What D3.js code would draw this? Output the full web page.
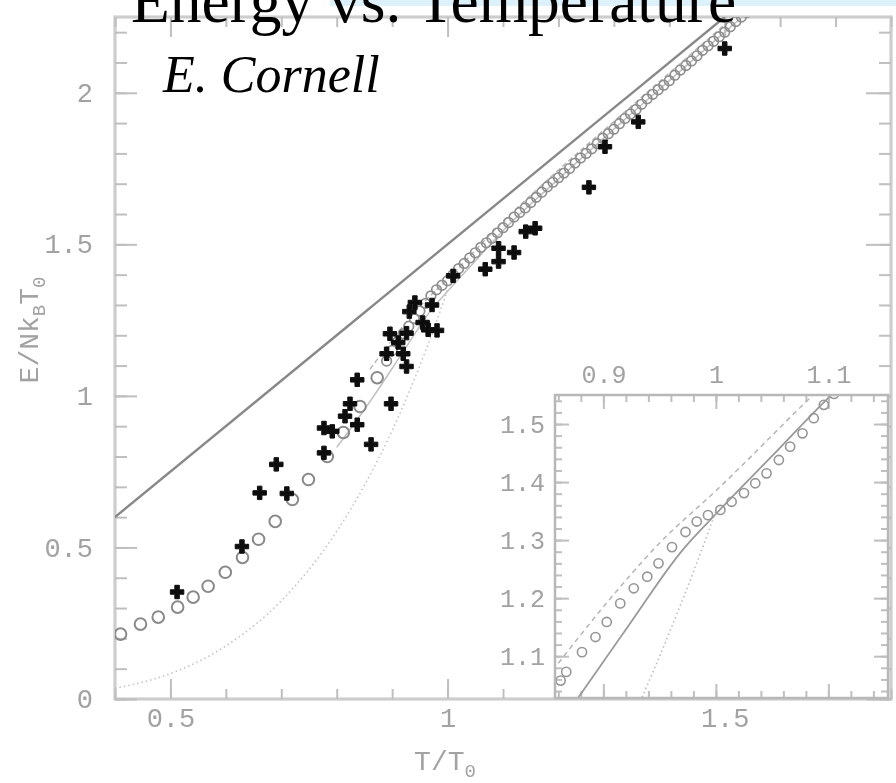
<!DOCTYPE html>
<html>
<head>
<meta charset="utf-8">
<script src="https://cdn.jsdelivr.net/npm/d3@7"></script>
<style>
  body { margin: 0; background: #fff; }
  svg { display: block; }
  .tick text { font-family: "Liberation Mono", monospace; fill: #a2a2a2; }
</style>
</head>
<body>
<svg id="chart"></svg>
<script>
// measured points (filled markers)
const dataT = [0.512, 0.629, 0.661, 0.691, 0.710, 0.777, 0.777, 0.792, 0.815, 0.824, 0.837, 0.837, 0.862,
  0.890, 0.896, 0.911, 0.920, 0.926, 0.926, 0.898, 0.931, 0.941, 0.955, 0.972, 0.965, 0.981,
  1.010, 1.068, 1.092, 1.092, 1.120, 1.141, 1.158, 1.255, 1.284, 1.344, 1.500];
const dataE = [0.353, 0.503, 0.680, 0.774, 0.678, 0.812, 0.894, 0.883, 0.933, 0.974, 1.053, 0.905, 0.840,
  1.139, 1.205, 1.176, 1.139, 1.207, 1.097, 0.974, 1.278, 1.308, 1.242, 1.300, 1.218, 1.216,
  1.396, 1.418, 1.443, 1.487, 1.473, 1.542, 1.553, 1.688, 1.822, 1.904, 2.146];

// open circles, main panel, low T part (larger)
const lowCircT = [0.41, 0.446, 0.478, 0.513, 0.541, 0.568, 0.599, 0.63, 0.659, 0.689, 0.72, 0.749, 0.783,
  0.812, 0.842, 0.873];
const lowCircE = [0.214, 0.247, 0.27, 0.303, 0.336, 0.372, 0.418, 0.467, 0.527, 0.586, 0.658, 0.724, 0.80,
  0.879, 0.965, 1.06];

// open circles, main panel, upper chain (small, dense)
const highCircT = [0.89, 0.90, 0.91, 0.92, 0.93, 0.94, 0.95, 0.96, 0.97, 0.98, 0.99, 1.0, 1.01, 1.02, 1.03,
  1.04, 1.05, 1.06, 1.07, 1.08, 1.09, 1.10, 1.11, 1.12, 1.13, 1.14, 1.15, 1.16, 1.17, 1.18, 1.19, 1.20,
  1.21, 1.22, 1.23, 1.24, 1.25, 1.26, 1.27, 1.28, 1.29, 1.30, 1.31, 1.32, 1.33, 1.34, 1.35, 1.36, 1.37,
  1.38, 1.39, 1.40, 1.41, 1.42, 1.43, 1.44, 1.45, 1.46, 1.47, 1.48, 1.49, 1.50, 1.51, 1.52, 1.53, 1.54];
const highCircE = [1.115, 1.15, 1.18, 1.205, 1.23, 1.255, 1.28, 1.305, 1.33, 1.35, 1.365, 1.38, 1.40, 1.42,
  1.437, 1.455, 1.472, 1.49, 1.505, 1.52, 1.538, 1.555, 1.572, 1.59, 1.605, 1.62, 1.638, 1.655, 1.672,
  1.69, 1.705, 1.72, 1.735, 1.75, 1.768, 1.785, 1.80, 1.815, 1.832, 1.85, 1.865, 1.88, 1.898, 1.915,
  1.93, 1.945, 1.962, 1.98, 1.995, 2.01, 2.025, 2.04, 2.058, 2.075, 2.09, 2.105, 2.122, 2.14, 2.155,
  2.17, 2.185, 2.2, 2.218, 2.235, 2.25, 2.265];

// open circles, inset
const insetCircT = [0.862, 0.867, 0.881, 0.893, 0.903, 0.915, 0.927, 0.939, 0.949, 0.961, 0.973, 0.983, 0.993,
  1.004, 1.014, 1.025, 1.035, 1.045, 1.056, 1.066, 1.077, 1.087, 1.096, 1.105];
const insetCircE = [1.058, 1.073, 1.107, 1.133, 1.159, 1.191, 1.217, 1.237, 1.26, 1.288, 1.314, 1.332, 1.343,
  1.352, 1.366, 1.381, 1.398, 1.415, 1.438, 1.461, 1.484, 1.51, 1.533, 1.552];

// straight solid line
const classT = [0.4, 1.5];
const classE = [0.6, 2.25];

// dashed curve
const dashT = [0.86, 0.9, 0.95, 1.0, 1.1, 1.2, 1.3, 1.4, 1.5, 1.6];
const dashE = [1.088, 1.185, 1.295, 1.385, 1.575, 1.745, 1.905, 2.065, 2.225, 2.385];

// thin solid curve
const solidT = [0.8, 0.85, 0.87, 0.92, 0.97, 1.0, 1.05, 1.1, 1.2, 1.3, 1.4, 1.5, 1.6];
const solidE = [0.83, 0.955, 1.008, 1.146, 1.282, 1.345, 1.445, 1.545, 1.715, 1.88, 2.04, 2.2, 2.36];

// dotted curve
const dotT = [0.4, 0.5, 0.6, 0.7, 0.8, 0.85, 0.9, 0.93, 0.96, 0.98, 1.0];
const dotE = [0.035, 0.084, 0.175, 0.324, 0.553, 0.705, 0.886, 1.01, 1.147, 1.245, 1.35];

const mainXTicks = [0.5, 1, 1.5];
const mainYTicks = [0, 0.5, 1, 1.5, 2];
const insetXTicks = [0.9, 1, 1.1];
const insetYTicks = [1.1, 1.2, 1.3, 1.4, 1.5];

const width = 896;
const height = 783;
const zip = (a, b) => a.map((v, i) => [v, b[i]]);

const svg = d3.select("#chart").attr("width", width).attr("height", height);

const defs = svg.append("defs");
defs.append("filter").attr("id", "soft")
  .append("feGaussianBlur").attr("stdDeviation", 0.75);

// light blue strip at the very top
svg.append("rect").attr("x", 330).attr("y", 0).attr("width", width - 330).attr("height", 6)
  .attr("fill", "#dcf1fa");

const x = d3.scaleLinear().domain([0.4, 1.8]).range([115, 891]);
const y = d3.scaleLinear().domain([0, 2.25]).range([699, 17]);

defs.append("clipPath").attr("id", "mainClip").append("rect")
  .attr("x", 115).attr("y", 17).attr("width", 776).attr("height", 682);

const chart = svg.append("g").attr("filter", "url(#soft)");

// draws inward ticks; labels only for the major set
const drawTicks = (g, axisFn, scale, values, size, pad, labelled, fs) => {
  const a = axisFn(scale).tickValues(values).tickSize(-size).tickPadding(pad)
    .tickFormat(labelled ? d3.format("") : () => "");
  g.call(a);
  g.select(".domain").remove();
  g.selectAll(".tick line").attr("stroke", "#bfbfbf").attr("stroke-width", 2);
  g.selectAll(".tick text").attr("font-size", fs);
};

const xMinor = d3.range(4, 19).map((v) => v / 10);
const yMinor = d3.range(0, 23).map((v) => v / 10);
const yMajorAll = [0, 0.5, 1, 1.5, 2];

// main frame
chart.append("rect").attr("x", 115).attr("y", 17).attr("width", 776).attr("height", 682)
  .attr("fill", "none").attr("stroke", "#cdcdcd").attr("stroke-width", 3.2);

drawTicks(chart.append("g").attr("transform", "translate(0,699)"), d3.axisBottom, x, xMinor, 10, 0, false, 0);
drawTicks(chart.append("g").attr("transform", "translate(0,699)"), d3.axisBottom, x, mainXTicks, 20, 9, true, 27);
drawTicks(chart.append("g").attr("transform", "translate(0,17)"), d3.axisTop, x, xMinor, 10, 0, false, 0);
drawTicks(chart.append("g").attr("transform", "translate(0,17)"), d3.axisTop, x, mainXTicks, 20, 0, false, 0);
drawTicks(chart.append("g").attr("transform", "translate(115,0)"), d3.axisLeft, y, yMinor, 12, 0, false, 0);
drawTicks(chart.append("g").attr("transform", "translate(115,0)"), d3.axisLeft, y, mainYTicks, 22, 22, true, 27);
drawTicks(chart.append("g").attr("transform", "translate(891,0)"), d3.axisRight, y, yMinor, 12, 0, false, 0);
drawTicks(chart.append("g").attr("transform", "translate(891,0)"), d3.axisRight, y, yMajorAll, 25, 0, false, 0);

// axis titles
const yl = chart.append("text")
  .attr("transform", "translate(38,330) rotate(-90)")
  .attr("text-anchor", "middle")
  .attr("font-family", "Liberation Mono, monospace")
  .attr("font-size", 28).attr("fill", "#a2a2a2");
yl.append("tspan").text("E/Nk");
yl.append("tspan").attr("font-size", 19).attr("dy", 7).text("B");
yl.append("tspan").attr("dy", -7).text("T");
yl.append("tspan").attr("font-size", 19).attr("dy", 7).text("0");

const xl = chart.append("text")
  .attr("x", 445).attr("y", 770)
  .attr("text-anchor", "middle")
  .attr("font-family", "Liberation Mono, monospace")
  .attr("font-size", 28).attr("fill", "#a2a2a2");
xl.append("tspan").text("T/T");
xl.append("tspan").attr("font-size", 19).attr("dy", 7).text("0");

const plot = chart.append("g").attr("clip-path", "url(#mainClip)");

const line = (xs, ys) => d3.line().x((d) => xs(d[0])).y((d) => ys(d[1])).curve(d3.curveMonotoneX);

plot.append("path").datum(zip(classT, classE)).attr("d", line(x, y))
  .attr("fill", "none").attr("stroke", "#888").attr("stroke-width", 2.4);
plot.append("path").datum(zip(dotT, dotE)).attr("d", line(x, y))
  .attr("fill", "none").attr("stroke", "#c4c4c4").attr("stroke-width", 1.6).attr("stroke-dasharray", "1.5,3");
plot.append("path").datum(zip(dashT, dashE)).attr("d", line(x, y))
  .attr("fill", "none").attr("stroke", "#b8b8b8").attr("stroke-width", 1.5).attr("stroke-dasharray", "5,3");
plot.append("path").datum(zip(solidT, solidE)).attr("d", line(x, y))
  .attr("fill", "none").attr("stroke", "#c0c0c0").attr("stroke-width", 1.5);

plot.selectAll("circle.lo").data(zip(lowCircT, lowCircE)).enter().append("circle")
  .attr("class", "lo")
  .attr("cx", (d) => x(d[0])).attr("cy", (d) => y(d[1])).attr("r", 5.8)
  .attr("fill", "none").attr("stroke", "#8a8a8a").attr("stroke-width", 2);

plot.selectAll("circle.hi").data(zip(highCircT, highCircE)).enter().append("circle")
  .attr("class", "hi")
  .attr("cx", (d) => x(d[0])).attr("cy", (d) => y(d[1])).attr("r", 4.8)
  .attr("fill", "none").attr("stroke", "#8e8e8e").attr("stroke-width", 1.7);

plot.selectAll("path.pt").data(zip(dataT, dataE)).enter().append("path")
  .attr("class", "pt")
  .attr("transform", (d) => `translate(${x(d[0])},${y(d[1])})`)
  .attr("d", d3.symbol(d3.symbolCross, 100))
  .attr("fill", "#0a0a0a").attr("stroke", "#0a0a0a").attr("stroke-width", 1);

// inset
const xi = d3.scaleLinear().domain([0.857, 1.153]).range([555, 888]);
const yi = d3.scaleLinear().domain([1.028, 1.55]).range([698, 395]);

defs.append("clipPath").attr("id", "insetClip").append("rect")
  .attr("x", 555).attr("y", 395).attr("width", 333).attr("height", 303);

const inset = chart.append("g");
inset.append("rect").attr("x", 555).attr("y", 395).attr("width", 333).attr("height", 303)
  .attr("fill", "#fff");

const xiMinor = d3.range(86, 116, 2).map((v) => v / 100);
const yiMinor = d3.range(104, 156, 2).map((v) => v / 100);

drawTicks(inset.append("g").attr("transform", "translate(0,698)"), d3.axisBottom, xi, xiMinor, 7, 0, false, 0);
drawTicks(inset.append("g").attr("transform", "translate(0,698)"), d3.axisBottom, xi, insetXTicks, 14, 0, false, 0);
drawTicks(inset.append("g").attr("transform", "translate(0,395)"), d3.axisTop, xi, xiMinor, 7, 0, false, 0);
drawTicks(inset.append("g").attr("transform", "translate(0,395)"), d3.axisTop, xi, insetXTicks, 14, 12, true, 25);
drawTicks(inset.append("g").attr("transform", "translate(555,0)"), d3.axisLeft, yi, yiMinor, 7, 0, false, 0);
drawTicks(inset.append("g").attr("transform", "translate(555,0)"), d3.axisLeft, yi, insetYTicks, 14, 10, true, 25);
drawTicks(inset.append("g").attr("transform", "translate(888,0)"), d3.axisRight, yi, yiMinor, 7, 0, false, 0);
drawTicks(inset.append("g").attr("transform", "translate(888,0)"), d3.axisRight, yi, insetYTicks, 14, 0, false, 0);

const iplot = inset.append("g").attr("clip-path", "url(#insetClip)");
iplot.append("path").datum(zip(dotT, dotE)).attr("d", line(xi, yi))
  .attr("fill", "none").attr("stroke", "#bdbdbd").attr("stroke-width", 1.6).attr("stroke-dasharray", "1.5,3");
iplot.append("path").datum(zip(dashT, dashE)).attr("d", line(xi, yi))
  .attr("fill", "none").attr("stroke", "#b5b5b5").attr("stroke-width", 1.5).attr("stroke-dasharray", "5,4");
iplot.append("path").datum(zip(solidT, solidE)).attr("d", line(xi, yi))
  .attr("fill", "none").attr("stroke", "#9a9a9a").attr("stroke-width", 1.8);
iplot.selectAll("circle").data(zip(insetCircT, insetCircE)).enter().append("circle")
  .attr("cx", (d) => xi(d[0])).attr("cy", (d) => yi(d[1])).attr("r", 4.6)
  .attr("fill", "none").attr("stroke", "#969696").attr("stroke-width", 1.6);

inset.append("rect").attr("x", 555).attr("y", 395).attr("width", 333).attr("height", 303)
  .attr("fill", "none").attr("stroke", "#b8b8b8").attr("stroke-width", 2.5);

// slide text
svg.append("text").attr("x", 131).attr("y", 22)
  .attr("font-family", "Liberation Serif, Times New Roman, serif")
  .attr("font-size", 63.5).attr("fill", "#000")
  .text("Energy vs. Temperature");
svg.append("text").attr("x", 163).attr("y", 92)
  .attr("font-family", "Liberation Serif, Times New Roman, serif")
  .attr("font-style", "italic").attr("font-size", 52).attr("fill", "#000")
  .text("E. Cornell");
</script>
</body>
</html>
